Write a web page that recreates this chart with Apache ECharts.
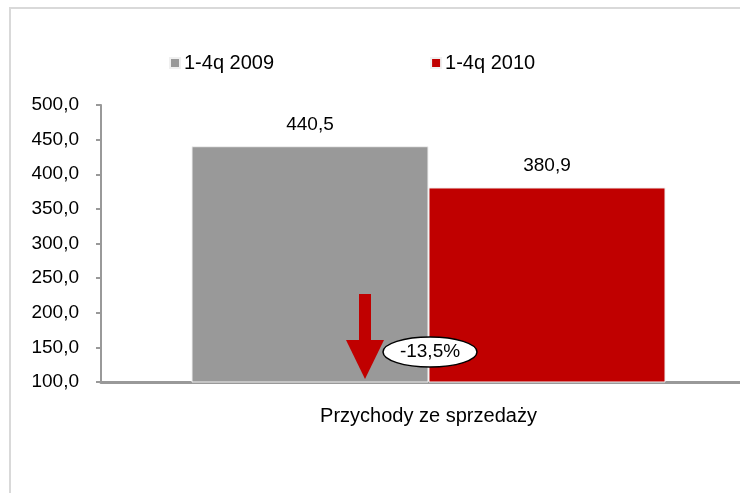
<!DOCTYPE html>
<html>
<head>
<meta charset="utf-8">
<script src="https://cdn.jsdelivr.net/npm/echarts@6/dist/echarts.min.js"></script>
<style>
html,body{margin:0;padding:0;background:#fff;overflow:hidden;width:740px;height:493px;}
#main{width:756px;height:493px;}
</style>
</head>
<body>
<div id="main"></div>
<script>
var categories = ['Przychody ze sprzedaży'];
var seriesNames = ['1-4q 2009', '1-4q 2010'];
var values2009 = [440.5];
var values2010 = [380.9];
var changeLabel = '-13,5%';

var FONT = 'Liberation Sans, Arial, sans-serif';
function fmt(v){ return v.toFixed(1).replace('.', ','); }

var chart = echarts.init(document.getElementById('main'), null, {renderer:'canvas'});
chart.setOption({
  backgroundColor: '#ffffff',
  animation: false,
  textStyle: {fontFamily: FONT},
  legend: {
    left: 164, top: 48,
    itemWidth: 10, itemHeight: 10, itemGap: 156,
    icon: 'rect',
    textStyle: {fontFamily: FONT, fontSize: 20, color: '#000', padding:[0,0,0,-1]},
    data: seriesNames
  },
  grid: {left: 101, top: 105, bottom: 111, right: 0, containLabel: false},
  xAxis: {
    type: 'category',
    data: categories,
    axisLine: {lineStyle: {color: '#999999', width: 3}},
    axisTick: {show: false},
    axisLabel: {fontFamily: FONT, fontSize: 20, color: '#000', margin: 24}
  },
  yAxis: {
    type: 'value', min: 100, max: 500, interval: 50,
    axisLine: {show: true, lineStyle: {color: '#999999', width: 2}},
    axisTick: {show: true, length: 5, lineStyle: {color: '#999999', width: 2}},
    splitLine: {show: false},
    axisLabel: {fontFamily: FONT, fontSize: 19, color: '#000', margin: 22, formatter: fmt}
  },
  series: [
    {
      name: seriesNames[0], type: 'bar', data: values2009,
      barWidth: 237, barGap: '0%',
      itemStyle: {color: '#999999', borderColor: '#f0f0f0', borderWidth: 1},
      label: {show: true, position: 'top', distance: 12, fontFamily: FONT, fontSize: 19, color: '#000',
        formatter: function(p){ return fmt(p.value); }}
    },
    {
      name: seriesNames[1], type: 'bar', data: values2010,
      barWidth: 237,
      itemStyle: {color: '#C00000', borderColor: '#f0f0f0', borderWidth: 1},
      label: {show: true, position: 'top', distance: 12, fontFamily: FONT, fontSize: 19, color: '#000',
        formatter: function(p){ return fmt(p.value); }}
    }
  ],
  graphic: [
    {type: 'rect', silent: true, z: -1, shape: {x: 10, y: 8, width: 800, height: 600},
     style: {fill: 'none', stroke: '#d9d9d9', lineWidth: 2}},
    {type: 'rect', z: 100, shape: {x: 359, y: 294, width: 12, height: 47},
     style: {fill: '#C00000'}},
    {type: 'polygon', z: 100, shape: {points: [[346, 340], [384, 340], [365, 379]]},
     style: {fill: '#C00000'}},
    {type: 'ellipse', z: 101, shape: {cx: 430, cy: 352, rx: 47, ry: 15},
     style: {fill: '#ffffff', stroke: '#000000', lineWidth: 1.5}},
    {type: 'text', z: 102, style: {x: 430, y: 352, text: changeLabel, fontFamily: FONT, fontSize: 19,
      fill: '#000', align: 'center', verticalAlign: 'middle'}}
  ]
});
</script>
</body>
</html>
